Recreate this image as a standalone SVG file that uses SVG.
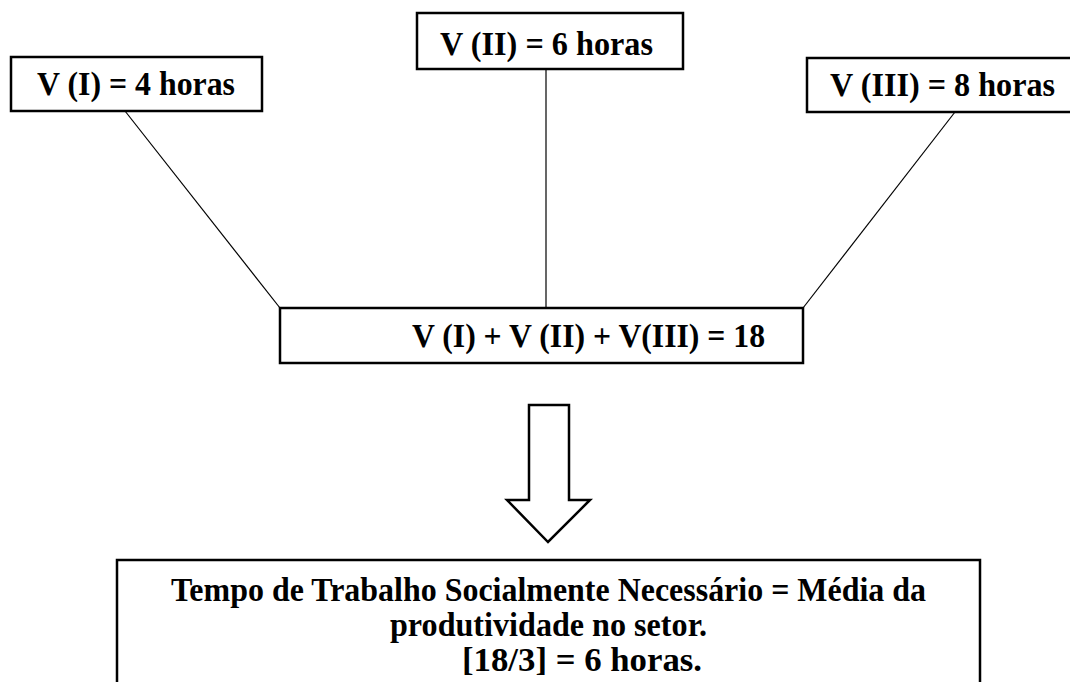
<svg xmlns="http://www.w3.org/2000/svg" width="1070" height="682" viewBox="0 0 1070 682">
<style>
.box{fill:#fff;stroke:#000;stroke-width:2.5}
.t{font-family:"Liberation Serif","Times New Roman","DejaVu Serif",serif;font-weight:bold;font-size:33px;fill:#000}
.ln{stroke:#000;stroke-width:1.2;fill:none}
</style>
<rect width="1070" height="682" fill="#fff"/>
<g id="connectors">
<line class="ln" x1="125" y1="111" x2="280" y2="308"/>
<line class="ln" x1="546" y1="69" x2="546" y2="308"/>
<line class="ln" x1="955" y1="112" x2="803" y2="308"/>
<path id="arrow" d="M529,405 H569 V500 H590 L548,542 L507,500 H529 Z" fill="#fff" stroke="#000" stroke-width="2.5"/>
</g>
<g id="n1">
<rect class="box" x="11" y="57" width="251" height="54"/>
<text class="t" font-family="Liberation Serif, serif" x="37" y="95" textLength="198" lengthAdjust="spacingAndGlyphs">V (I) = 4 horas</text>
</g>
<g id="n2">
<rect class="box" x="417" y="13" width="266" height="56"/>
<text class="t" font-family="Liberation Serif, serif" x="440" y="55" textLength="213" lengthAdjust="spacingAndGlyphs">V (II) = 6 horas</text>
</g>
<g id="n3">
<rect class="box" x="807" y="58" width="265" height="54"/>
<text class="t" font-family="Liberation Serif, serif" x="830" y="96" textLength="225" lengthAdjust="spacingAndGlyphs">V (III) = 8 horas</text>
</g>
<g id="sum">
<rect class="box" x="280" y="308" width="523" height="55"/>
<text class="t" font-family="Liberation Serif, serif" x="412" y="347" textLength="353" lengthAdjust="spacingAndGlyphs">V (I) + V (II) + V(III) = 18</text>
</g>
<g id="result">
<rect class="box" x="117" y="560" width="863" height="130"/>
<text class="t" font-family="Liberation Serif, serif" x="171" y="601" textLength="755" lengthAdjust="spacingAndGlyphs">Tempo de Trabalho Socialmente Necessário = Média da</text>
<text class="t" font-family="Liberation Serif, serif" x="390" y="636" textLength="317" lengthAdjust="spacingAndGlyphs">produtividade no setor.</text>
<text class="t" font-family="Liberation Serif, serif" x="462" y="671" textLength="240" lengthAdjust="spacingAndGlyphs">[18/3] = 6 horas.</text>
</g>
</svg>
